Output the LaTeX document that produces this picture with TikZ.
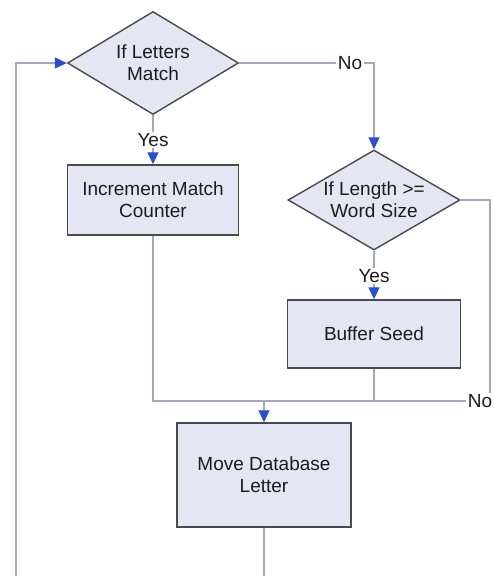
\documentclass[tikz,border=0pt]{standalone}
\usepackage{fontspec}
\setmainfont{Liberation Sans}
\usetikzlibrary{shapes.geometric,arrows.meta}
\definecolor{boxfill}{HTML}{E4E6F4}
\definecolor{boxedge}{HTML}{4A4A4A}
\definecolor{wire}{HTML}{A3A9B8}
\definecolor{tipblue}{HTML}{2C4FC8}
\definecolor{ink}{HTML}{1C1C1C}
\begin{document}
\begin{tikzpicture}[x=1pt,y=-1pt,
  every node/.style={font=\fontsize{19}{22}\selectfont, text=ink},
  process/.style={draw=boxedge, fill=boxfill, line width=1.4pt, rectangle, inner sep=0pt, align=center},
  decision/.style={draw=boxedge, fill=boxfill, line width=1.4pt, diamond, inner sep=0pt},
  caption/.style={align=center, inner sep=0pt},
  flow/.style={draw=wire, line width=1.2pt},
  tip/.style={-{Triangle[length=12pt,width=11pt,color=tipblue]}},
  branch/.style={fill=white, inner sep=1.5pt},
]
\clip (0,0) rectangle (493,576);
\fill[white] (0,0) rectangle (493,576);

% steps and decisions
\node[decision, minimum width=171pt, minimum height=103pt] (d1) at (153,63) {};
\node[caption] (d1t) at (d1.center) {If Letters\\Match};
\node[process, minimum width=171pt, minimum height=70pt] (inc) at (153,200) {Increment Match\\Counter};
\node[decision, minimum width=172pt, minimum height=100pt] (d2) at (374,200) {};
\node[caption] (d2t) at (d2.center) {If Length >=\\Word Size};
\node[process, minimum width=173pt, minimum height=68pt] (buf) at (374,334) {Buffer Seed};
\node[process, minimum width=174pt, minimum height=104pt] (mv) at (264,475) {Move Database\\Letter};

% routing points
\coordinate (j) at (264,401);
\coordinate (rt) at (490,401);
\coordinate (loop) at (16,600);

% connectors
\draw[flow,tip] (d1.east) -| (d2.north);
\draw[flow,tip] (d1.south) -- (inc.north);
\draw[flow,tip] (d2.south) -- (buf.north);
\draw[flow] (d2.east) -| (rt) -- (j);
\draw[flow] (inc.south) |- (j);
\draw[flow] (buf.south) -- (buf.south |- j);
\draw[flow,tip] (j) -- (mv.north);
\draw[flow,tip] (mv.south) |- (loop) |- (d1.west);

% branch labels
\node[branch] (no1) at (350,63) {No};
\node[branch] (yes1) at (153,140) {Yes};
\node[branch] (yes2) at (374,276) {Yes};
\node[branch] (no2) at (480,401) {No};
\end{tikzpicture}
\end{document}
